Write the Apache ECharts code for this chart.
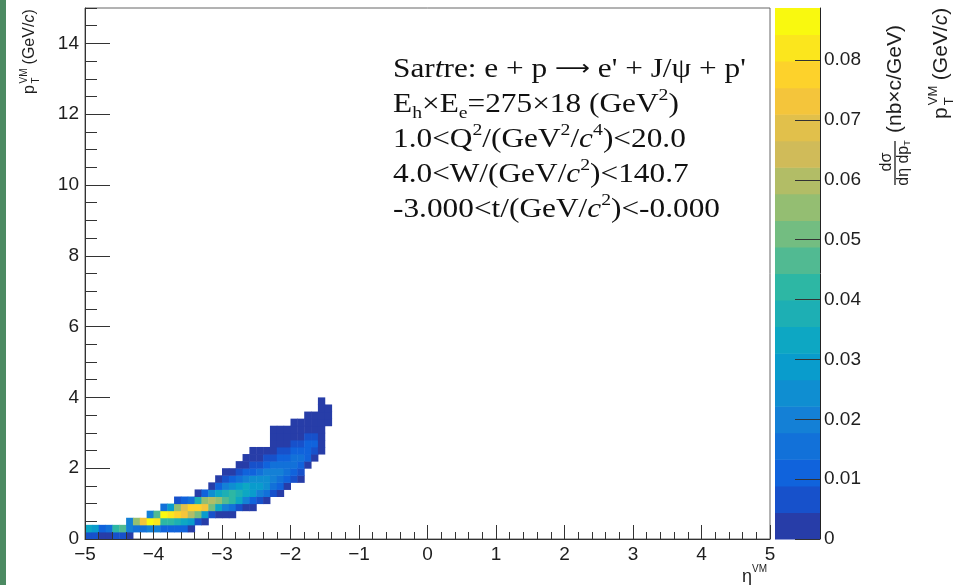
<!DOCTYPE html>
<html>
<head>
<meta charset="utf-8">
<title>pT vs eta, Sartre J/psi</title>
<script src="https://cdn.jsdelivr.net/npm/echarts@6.0.0/dist/echarts.min.js"></script>
<style>
  html, body { margin: 0; padding: 0; background: #fff; }
  #main { width: 958px; height: 585px; }
</style>
</head>
<body>
<div id="main"></div>
<script>
// binning of the 2D histogram
const etaBinWidth = 0.1;
const ptBinWidth = 0.2;

// low edge of every filled eta column
const etaLow = [
  -5.0, -4.9, -4.8, -4.7, -4.6, -4.5, -4.4, -4.3, -4.2, -4.1, -4.0, -3.9,
  -3.8, -3.7, -3.6, -3.5, -3.4, -3.3, -3.2, -3.1, -3.0, -2.9, -2.8, -2.7,
  -2.6, -2.5, -2.4, -2.3, -2.2, -2.1, -2.0, -1.9, -1.8, -1.7, -1.6, -1.5
];
// index of the first filled pT bin in each column
const firstPtBin = [
  0, 0, 0, 0, 0, 0, 0, 1, 1, 1, 1, 1, 1, 1, 1, 1, 2, 2,
  3, 3, 3, 3, 4, 4, 4, 5, 5, 6, 6, 7, 8, 8, 10, 11, 12, 16
];
// dsigma/(deta dpT) per bin, in 0.001 nb*c/GeV, going up in pT from firstPtBin
const cellValues = [
  [5, 34], [6, 30], [4, 11], [4, 16], [5, 42], [5, 46],
  [3, 22, 19],
  [14, 55], [17, 72],
  [18, 86, 22], [19, 84, 46],
  [13, 44, 86, 14], [12, 42, 82, 30],
  [10, 37, 78, 56, 5], [9, 32, 72, 70, 9], [4, 27, 60, 76, 16],
  [6, 50, 78, 38, 4], [4, 30, 72, 56, 11],
  [5, 50, 62, 24, 3],
  [4, 34, 56, 34, 9, 3],
  [3, 22, 46, 38, 18, 6, 2],
  [2, 14, 40, 40, 26, 9, 3],
  [8, 32, 38, 30, 14, 5, 2],
  [4, 22, 34, 32, 20, 9, 4, 2],
  [2, 12, 28, 30, 24, 13, 6, 3, 2],
  [6, 22, 27, 24, 16, 8, 4, 2],
  [3, 14, 23, 23, 18, 11, 5, 3],
  [5, 16, 20, 19, 14, 8, 4, 2, 2, 1],
  [2, 9, 17, 19, 16, 11, 6, 3, 2, 1],
  [4, 12, 17, 17, 13, 8, 4, 2, 1],
  [5, 13, 16, 15, 11, 6, 3, 2, 1],
  [2, 7, 13, 15, 13, 8, 4, 2, 1],
  [4, 10, 13, 11, 6, 3, 2, 1],
  [3, 8, 9, 6, 3, 2, 1],
  [2, 4, 4, 3, 2, 1, 1, 1],
  [1, 1, 1]
];

const ptTicks = [0, 2, 4, 6, 8, 10, 12, 14];
const zTicks = [0, 0.01, 0.02, 0.03, 0.04, 0.05, 0.06, 0.07, 0.08];
const zMax = 0.0887;
const nContours = 20;

// ROOT kBird palette
const birdStops = [0.0, 0.125, 0.25, 0.375, 0.5, 0.625, 0.75, 0.875, 1.0];
const birdRed = [0.2082, 0.0592, 0.0780, 0.0232, 0.1802, 0.5301, 0.8186, 0.9956, 0.9764];
const birdGreen = [0.1664, 0.3599, 0.5041, 0.6419, 0.7178, 0.7492, 0.7328, 0.7862, 0.9832];
const birdBlue = [0.5293, 0.8684, 0.8385, 0.7914, 0.6425, 0.4662, 0.3499, 0.1968, 0.0539];

function birdColor(f) {
  let s = 1;
  while (s < birdStops.length - 1 && f > birdStops[s]) s++;
  const t = (f - birdStops[s - 1]) / (birdStops[s] - birdStops[s - 1]);
  const mix = a => Math.round(255 * (a[s - 1] + t * (a[s] - a[s - 1])));
  return 'rgb(' + mix(birdRed) + ',' + mix(birdGreen) + ',' + mix(birdBlue) + ')';
}

const zStep = zMax / nContours;
const pieces = [];
const bands = [];
for (let k = 0; k < nContours; k++) {
  const idx = Math.min(Math.floor((k + 0.99) * 255 / nContours), 254);
  pieces.push({ gte: k * zStep, lt: (k + 1) * zStep + (k === nContours - 1 ? 1e-9 : 0), color: birdColor(idx / 255) });
  bands.push([0, k * zStep, (k + 0.5) * zStep]);
}

const cells = [];
etaLow.forEach((eta, i) => {
  cellValues[i].forEach((v, k) => {
    cells.push([eta, (firstPtBin[i] + k) * ptBinWidth, v / 1000]);
  });
});

const ink = '#1e1e1e';
const sans = 'Liberation Sans, Arial, sans-serif';
const serif = 'Liberation Serif, Times New Roman, serif';

function renderCell(params, api) {
  const x0 = api.value(0), y0 = api.value(1);
  const p1 = api.coord([x0, y0 + ptBinWidth]);
  const p2 = api.coord([x0 + etaBinWidth, y0]);
  return {
    type: 'rect',
    shape: { x: p1[0], y: p1[1], width: p2[0] - p1[0] + 0.5, height: p2[1] - p1[1] + 0.5 },
    style: { fill: api.visual('color') }
  };
}

function renderBand(params, api) {
  const lo = api.value(1);
  const p1 = api.coord([0, lo + zStep]);
  const p2 = api.coord([1, lo]);
  return {
    type: 'rect',
    shape: { x: p1[0], y: p1[1], width: p2[0] - p1[0], height: p2[1] - p1[1] + 0.5 },
    style: { fill: api.visual('color') }
  };
}

const tickLine = { color: '#333', width: 1 };
const serifRich = {
  n: { fontFamily: serif, fontSize: 27, lineHeight: 35, fill: '#111' },
  i: { fontFamily: serif, fontSize: 27, lineHeight: 35, fontStyle: 'italic', fill: '#111' },
  ar: { fontFamily: 'DejaVu Sans', fontSize: 21, lineHeight: 35, fill: '#111' },
  sup: { fontFamily: serif, fontSize: 17, verticalAlign: 'top', fill: '#111' },
  sub: { fontFamily: serif, fontSize: 17, verticalAlign: 'bottom', fill: '#111' }
};
const textLines = [
  "{n|Sar}{i|t}{n|re: e + p }{ar|\u27f6}{n| e' + J/\u03c8 + p'}",
  '{n|E}{sub|h}{n|\u00d7E}{sub|e}{n|=275\u00d718 (GeV}{sup|2}{n|)}',
  '{n|1.0<Q}{sup|2}{n|/(GeV}{sup|2}{n|/}{i|c}{sup|4}{n|)<20.0}',
  '{n|4.0<W/(GeV/}{i|c}{sup|2}{n|)<140.7}',
  '{n|-3.000<t/(GeV/}{i|c}{sup|2}{n|)<-0.000}'
];
const lineY = [70, 105, 140, 175, 210];

const graphics = [
  { type: 'rect', x: 0, y: 0, shape: { width: 6, height: 585 }, style: { fill: '#4c8a62' } }
];
textLines.forEach((t, i) => {
  graphics.push({
    type: 'text', x: 393, y: lineY[i], scaleX: 1.16,
    style: { text: t, rich: serifRich, fontFamily: serif, fontSize: 27, fill: '#111', verticalAlign: 'middle' }
  });
});

function ptTitle(x, y, size) {
  const small = Math.round(size * 0.62);
  return {
    type: 'group', x: x, y: y, rotation: Math.PI / 2,
    children: [
      { type: 'text', x: 0, y: 0, style: { text: 'p', fontFamily: sans, fontSize: size, fill: ink, verticalAlign: 'middle' } },
      { type: 'text', x: size * 0.66, y: -size * 0.38, style: { text: 'VM', fontFamily: sans, fontSize: small, fill: ink, verticalAlign: 'middle' } },
      { type: 'text', x: size * 0.66, y: size * 0.42, style: { text: 'T', fontFamily: sans, fontSize: small, fill: ink, verticalAlign: 'middle' } },
      {
        type: 'text', x: size * 1.85, y: 0,
        style: {
          text: '{n|(GeV/}{i|c}{n|)}', fontFamily: sans, fontSize: size, fill: ink, verticalAlign: 'middle',
          rich: {
            n: { fontFamily: sans, fontSize: size, fill: ink },
            i: { fontFamily: sans, fontSize: size, fontStyle: 'italic', fill: ink }
          }
        }
      }
    ]
  };
}

graphics.push(ptTitle(30, 94, 16));
graphics.push(ptTitle(941, 119, 21));

// colour bar title: dsigma / (deta dpT) (nb x c/GeV)
graphics.push({
  type: 'group', x: 895, y: 186, rotation: Math.PI / 2,
  children: [
    { type: 'line', shape: { x1: 1, y1: 0, x2: 45, y2: 0 }, style: { stroke: ink, lineWidth: 1.3 } },
    { type: 'text', x: 24, y: -8, style: { text: 'd\u03c3', fontFamily: sans, fontSize: 16, fill: ink, textAlign: 'center', verticalAlign: 'middle' } },
    {
      type: 'text', x: 23, y: 9,
      style: {
        text: '{n|d\u03b7 dp}{s|T}', fontFamily: sans, fontSize: 16, fill: ink, textAlign: 'center', verticalAlign: 'middle',
        rich: { n: { fontFamily: sans, fontSize: 16, fill: ink }, s: { fontFamily: sans, fontSize: 9, fill: ink, verticalAlign: 'bottom' } }
      }
    },
    { type: 'text', x: 53, y: 0, style: { text: '(nb\u00d7c/GeV)', fontFamily: sans, fontSize: 21, fill: ink, verticalAlign: 'middle' } }
  ]
});

// eta axis title
graphics.push({ type: 'text', x: 752, y: 577, style: { text: '\u03b7', fontFamily: sans, fontSize: 18, fill: ink, textAlign: 'right', verticalAlign: 'middle' } });
graphics.push({ type: 'text', x: 752, y: 569, style: { text: 'VM', fontFamily: sans, fontSize: 10, fill: ink, textAlign: 'left', verticalAlign: 'middle' } });

const chart = echarts.init(document.getElementById('main'), null, { renderer: 'canvas' });

const option = {
  animation: false,
  backgroundColor: '#fff',
  grid: [
    { left: 85, top: 8, width: 685, height: 531, show: true, borderColor: '#666', borderWidth: 1 },
    { left: 775, top: 8, width: 45, height: 531 }
  ],
  xAxis: [
    {
      gridIndex: 0, type: 'value', min: -5, max: 5, interval: 1, z: 10,
      axisLine: { show: true, onZero: false, lineStyle: tickLine },
      axisTick: { show: true, inside: true, length: 14, lineStyle: tickLine },
      minorTick: { show: true, splitNumber: 5, length: 7, lineStyle: tickLine },
      splitLine: { show: false },
      axisLabel: {
        margin: 6, fontSize: 19, fontFamily: sans, color: ink,
        formatter: v => String(v).replace('-', '\u2212')
      }
    },
    { gridIndex: 1, type: 'value', min: 0, max: 1, show: false }
  ],
  yAxis: [
    {
      gridIndex: 0, type: 'value', min: 0, max: 15, interval: 2, position: 'left', z: 10,
      axisLine: { show: true, onZero: false, lineStyle: tickLine },
      axisTick: { show: true, inside: true, length: 25, lineStyle: tickLine, customValues: ptTicks },
      splitLine: { show: false },
      axisLabel: { margin: 6, fontSize: 19, fontFamily: sans, color: ink, customValues: ptTicks }
    },
    {
      gridIndex: 0, type: 'value', min: 0, max: 15, interval: 0.5, position: 'left', z: 10,
      axisLine: { show: false, onZero: false },
      axisTick: { show: true, inside: true, length: 12, lineStyle: tickLine },
      splitLine: { show: false },
      axisLabel: { show: false }
    },
    {
      gridIndex: 1, type: 'value', min: 0, max: zMax, interval: 0.01, position: 'right', z: 10,
      axisLine: { show: true, onZero: false, lineStyle: { color: '#222', width: 1 } },
      axisTick: { show: true, inside: true, length: 25, lineStyle: tickLine, customValues: zTicks },
      splitLine: { show: false },
      axisLabel: {
        margin: 4, fontSize: 19, fontFamily: sans, color: ink, customValues: zTicks,
        formatter: v => (v === 0 ? '0' : v.toFixed(2))
      }
    }
  ],
  visualMap: {
    type: 'piecewise', show: false, dimension: 2, seriesIndex: [0, 1], pieces: pieces
  },
  series: [
    {
      type: 'custom', name: 'cells', xAxisIndex: 0, yAxisIndex: 0,
      renderItem: renderCell, data: cells, clip: true
    },
    {
      type: 'custom', name: 'palette', xAxisIndex: 1, yAxisIndex: 2,
      renderItem: renderBand, data: bands
    }
  ],
  graphic: graphics
};

chart.setOption(option);
</script>
</body>
</html>
